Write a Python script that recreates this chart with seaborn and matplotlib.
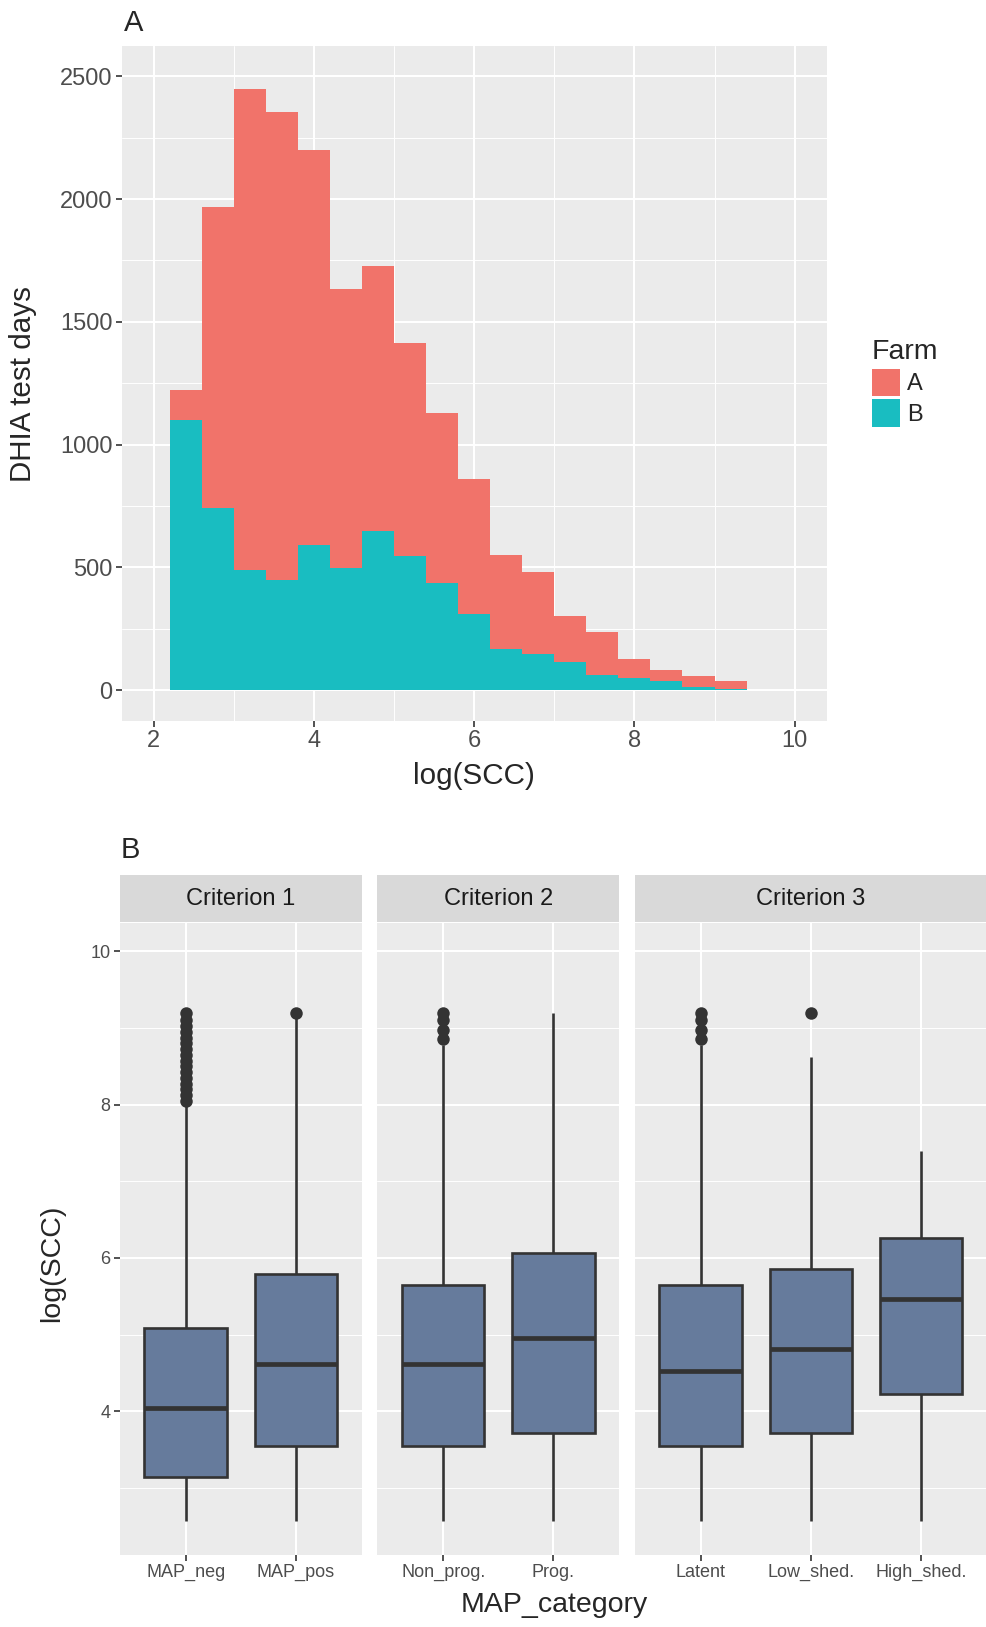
import numpy as np
import pandas as pd
import matplotlib
matplotlib.use('Agg')
import matplotlib.pyplot as plt
from matplotlib.ticker import MultipleLocator
import seaborn as sns

# Panel A: counts per log(SCC) bin (width 0.4)
bin_centers = [2.4, 2.8, 3.2, 3.6, 4.0, 4.4, 4.8, 5.2, 5.6, 6.0, 6.4, 6.8, 7.2, 7.6, 8.0, 8.4, 8.8, 9.2]
farm_a = [120, 1226, 1957, 1907, 1613, 1136, 1082, 866, 689, 550, 382, 332, 190, 173, 79, 48, 47, 33]
farm_b = [1101, 741, 490, 448, 589, 499, 647, 547, 438, 309, 168, 148, 113, 62, 48, 35, 11, 4]
farms = ['A', 'B']
farm_colors = ['#F1736A', '#19BDC1']

# Panel B: box plot summaries per MAP category
criteria = ['Criterion 1', 'Criterion 2', 'Criterion 3']
map_category = ['MAP_neg', 'MAP_pos', 'Non_prog.', 'Prog.', 'Latent', 'Low_shed.', 'High_shed.']
criterion = ['Criterion 1', 'Criterion 1', 'Criterion 2', 'Criterion 2', 'Criterion 3', 'Criterion 3', 'Criterion 3']
whisker_low = [2.57, 2.57, 2.57, 2.57, 2.57, 2.57, 2.57]
q1 = [3.14, 3.55, 3.55, 3.71, 3.55, 3.71, 4.23]
median = [4.04, 4.61, 4.61, 4.95, 4.53, 4.81, 5.46]
q3 = [5.09, 5.79, 5.645, 6.07, 5.645, 5.85, 6.26]
whisker_high = [8.0, 9.15, 8.78, 9.2, 8.78, 8.62, 7.39]
outliers = {
    'MAP_neg': [8.05, 8.12, 8.2, 8.27, 8.35, 8.42, 8.5, 8.57, 8.65, 8.72, 8.8, 8.87, 8.95, 9.02, 9.1, 9.2],
    'MAP_pos': [9.2],
    'Non_prog.': [8.85, 8.97, 9.1, 9.2],
    'Latent': [8.85, 8.97, 9.1, 9.2],
    'Low_shed.': [9.2],
}
box_color = '#667B9C'

sns.set_theme(style='darkgrid', rc={'axes.facecolor': '#EBEBEB', 'grid.color': 'white'})
plt.rcParams['font.family'] = ['Liberation Sans', 'DejaVu Sans']

W, H = 987, 1627
fig = plt.figure(figsize=(W / 100, H / 100), dpi=100)

def fx(px):
    return px / W

def fy(px):
    return 1 - px / H

def style_axes(ax, tick_size):
    for s in ax.spines.values():
        s.set_visible(False)
    ax.set_axisbelow(True)
    ax.grid(which='major', color='white', linewidth=1.5)
    ax.grid(which='minor', color='white', linewidth=0.7)
    ax.tick_params(which='major', bottom=True, left=True, length=4, width=1.2,
                   color='#333333', labelcolor='#4D4D4D', labelsize=tick_size, pad=2.5)
    ax.tick_params(which='minor', length=0)
    ax.set_xlabel('')
    ax.set_ylabel('')

# ---- Panel A ----
hist_df = pd.DataFrame({
    'logSCC': bin_centers + bin_centers,
    'count': farm_a + farm_b,
    'Farm': ['A'] * len(bin_centers) + ['B'] * len(bin_centers),
})
ax_a = fig.add_axes([fx(121.7), fy(720.7), fx(826.7 - 121.7), (720.7 - 45.7) / H])
sns.histplot(data=hist_df, x='logSCC', weights='count', hue='Farm', hue_order=farms,
             palette=farm_colors, multiple='stack', binwidth=0.4, binrange=(2.2, 9.4),
             alpha=1, linewidth=0, ax=ax_a)
ax_a.set_xlim(1.6, 10.4)
ax_a.set_ylim(-125, 2625)
ax_a.xaxis.set_major_locator(MultipleLocator(2))
ax_a.xaxis.set_minor_locator(MultipleLocator(1))
ax_a.yaxis.set_major_locator(MultipleLocator(500))
ax_a.yaxis.set_minor_locator(MultipleLocator(250))
style_axes(ax_a, 17)
sns.move_legend(ax_a, 'upper left', bbox_to_anchor=(fx(872), fy(339)),
                bbox_transform=fig.transFigure, frameon=False, title='Farm',
                fontsize=17, title_fontsize=20.5, handlelength=1.2, handleheight=1.4,
                labelspacing=0.15, handletextpad=0.3, borderpad=0, borderaxespad=0,
                alignment='left')

fig.text(fx(124), fy(23), 'A', fontsize=21, ha='left', va='center')
fig.text(fx(23), fy(384), 'DHIA test days', fontsize=21.3, rotation=90, ha='center', va='center')
fig.text(fx(474), fy(776), 'log(SCC)', fontsize=21.3, ha='center', va='center')

# ---- Panel B ----
box_df = pd.DataFrame({
    'category': np.repeat(map_category, 5),
    'criterion': np.repeat(criterion, 5),
    'value': np.column_stack([whisker_low, q1, median, q3, whisker_high]).ravel(),
})
out_df = pd.DataFrame([(c, v) for c, vals in outliers.items() for v in vals],
                      columns=['category', 'value'])

panel_x = [(119.6, 362.0), (377.0, 619.5), (634.5, 987.2)]
panel_top, panel_bottom = 922.5, 1555.0
strip_top = 875.0

for i, crit in enumerate(criteria):
    cats = [c for c, k in zip(map_category, criterion) if k == crit]
    x0, x1 = panel_x[i]
    ax = fig.add_axes([fx(x0), fy(panel_bottom), fx(x1 - x0), (panel_bottom - panel_top) / H])
    sns.boxplot(data=box_df[box_df['criterion'] == crit], x='category', y='value', order=cats,
                color=box_color, saturation=1, width=0.75, linecolor='#333333', linewidth=1.9,
                whis=(0, 100), showcaps=False, fliersize=0,
                medianprops={'linewidth': 3.4}, ax=ax)
    sns.stripplot(data=out_df[out_df['category'].isin(cats)], x='category', y='value', order=cats,
                  jitter=False, color='#333333', size=9, linewidth=0, ax=ax)
    ax.set_xlim(-0.6, len(cats) - 0.4)
    ax.set_ylim(2.125, 10.375)
    ax.yaxis.set_major_locator(MultipleLocator(2))
    ax.yaxis.set_minor_locator(MultipleLocator(1))
    style_axes(ax, 13)
    ax.xaxis.grid(True, which='major', color='white', linewidth=1.5)
    if i > 0:
        ax.tick_params(axis='y', left=False, labelleft=False)

    sax = fig.add_axes([fx(x0), fy(panel_top), fx(x1 - x0), (panel_top - strip_top) / H])
    sax.set_facecolor('#D9D9D9')
    sax.grid(False)
    sax.set_xticks([])
    sax.set_yticks([])
    for s in sax.spines.values():
        s.set_visible(False)
    sax.set_xlim(0, 1)
    sax.set_ylim(0, 1)
    sax.text(0.5, 0.5, crit, fontsize=17, color='#1A1A1A', ha='center', va='center')

fig.text(fx(130), fy(850), 'B', fontsize=21, ha='center', va='center')
fig.text(fx(52), fy(1263), 'log(SCC)', fontsize=20.5, rotation=90, ha='center', va='center')
fig.text(fx(554), fy(1605), 'MAP_category', fontsize=20.5, ha='center', va='center')

fig.savefig('out.png', dpi=100)
